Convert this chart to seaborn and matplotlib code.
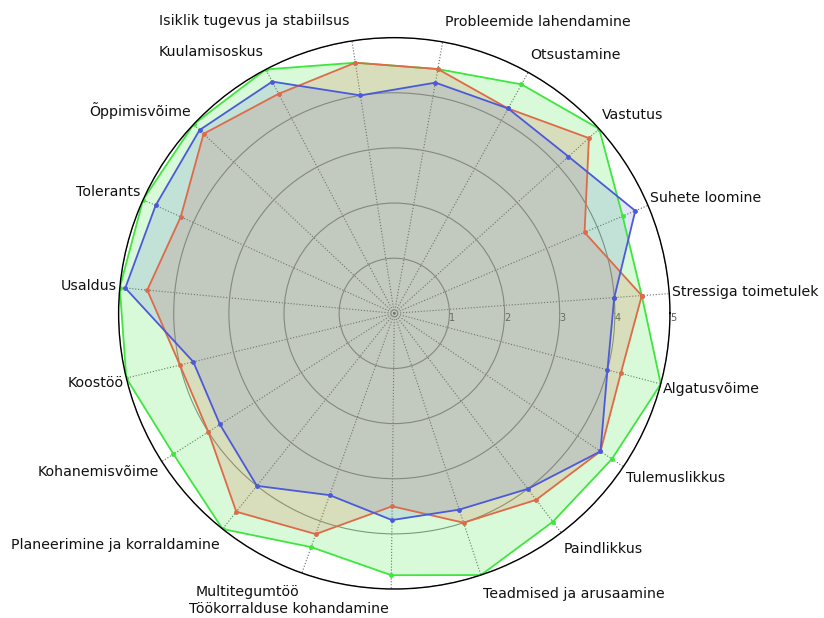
import numpy as np
import pandas as pd
import matplotlib
matplotlib.use('Agg')
import matplotlib.pyplot as plt
import seaborn as sns

# Competence labels, counterclockwise from the first spoke
categories = ['Stressiga toimetulek', 'Suhete loomine', 'Vastutus', 'Otsustamine',
              'Probleemide lahendamine', 'Isiklik tugevus ja stabiilsus', 'Kuulamisoskus',
              'Õppimisvõime', 'Tolerants', 'Usaldus', 'Koostöö', 'Kohanemisvõime',
              'Planeerimine ja korraldamine', 'Multitegumtöö', 'Töökorralduse kohandamine',
              'Teadmised ja arusaamine', 'Paindlikkus', 'Tulemuslikkus', 'Algatusvõime']

series_names = ['Hinnang 1', 'Hinnang 2', 'Hinnang 3']
green_vals = [4.5, 4.5, 5.0, 4.75, 4.5, 4.6, 5.0, 5.0, 5.0, 5.0,
              5.0, 4.75, 5.0, 4.5, 4.75, 5.0, 4.75, 4.75, 5.0]
orange_vals = [4.5, 3.75, 4.75, 4.25, 4.5, 4.6, 4.5, 4.75, 4.25, 4.5,
               4.0, 4.0, 4.6, 4.25, 3.5, 4.0, 4.25, 4.5, 4.25]
blue_vals = [4.0, 4.75, 4.25, 4.25, 4.25, 4.0, 4.75, 4.85, 4.75, 4.9,
             3.75, 3.75, 4.0, 3.5, 3.75, 3.75, 4.0, 4.5, 4.0]
r_ticks = [1, 2, 3, 4, 5]

line_colors = ['#3ee63e', '#dd6a48', '#4a5ad8']
fill_alphas = [0.2, 0.2, 0.15]

sns.set_style('white')
plt.rcParams['font.family'] = ['DejaVu Sans']

# first spoke sits a little above the horizontal
n = len(categories)
offset = np.deg2rad(4.1)
angles = offset + np.arange(n) * 2 * np.pi / n
closed = np.append(angles, angles[0] + 2 * np.pi)

# Long table for seaborn, each polygon closed back to its first point
rows = []
for name, vals in zip(series_names, [green_vals, orange_vals, blue_vals]):
    for a, v in zip(closed, vals + vals[:1]):
        rows.append({'series': name, 'angle': a, 'value': v})
df = pd.DataFrame(rows)

fig = plt.figure(figsize=(8.24, 6.18), dpi=100)
ax = fig.add_axes([0.1439, 0.0469, 0.6692, 0.8922], projection='polar')

for vals, color, alpha in zip([green_vals, orange_vals, blue_vals], line_colors, fill_alphas):
    ax.fill(closed, vals + vals[:1], color=color, alpha=alpha, linewidth=0)

sns.lineplot(data=df, x='angle', y='value', hue='series', palette=line_colors,
             sort=False, estimator=None, marker='o', markersize=3.5,
             markeredgewidth=0, linewidth=1.3, legend=False, ax=ax)

ax.set_xlabel('')
ax.set_ylabel('')
ax.set_xlim(0, 2 * np.pi)
ax.set_ylim(0, 5)
ax.set_xticks(angles)
ax.set_xticklabels([])
ax.set_yticks(r_ticks)
ax.set_yticklabels([str(t) for t in r_ticks], fontsize=7, color='#555555')
ax.set_rlabel_position(0)
plt.setp(ax.get_yticklabels(), va='top', ha='left')
ax.xaxis.grid(True, linestyle=':', color='#666666', linewidth=0.8)
ax.yaxis.grid(True, linestyle='-', color='#8a8a8a', linewidth=0.8)
ax.spines['polar'].set_color('black')
ax.spines['polar'].set_linewidth(1.0)

# Category labels: hug the rim sideways, pushed up/down with the angle
for ang, lab in zip(angles, categories):
    c, s = np.cos(ang), np.sin(ang)
    ax.annotate(lab, xy=(ang, 5), xytext=(1.8 * np.sign(c), 14.4 * s),
                textcoords='offset points', ha='left' if c > 0 else 'right',
                va='center', fontsize=10.2, color='#111111', annotation_clip=False)

fig.savefig('out.png', dpi=100)
